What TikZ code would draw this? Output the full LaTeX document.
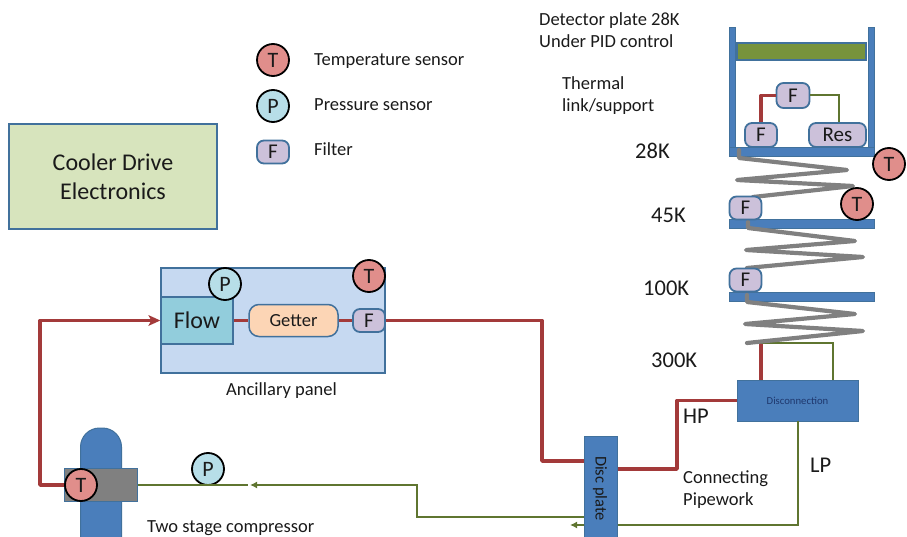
\documentclass[tikz,border=0pt]{standalone}
\usepackage{fontspec}
\setmainfont{Carlito}
\usetikzlibrary{arrows.meta}
\definecolor{edgeblue}{HTML}{41719C}
\definecolor{barblue}{HTML}{4A7EBB}
\definecolor{pipered}{HTML}{A33A3A}
\definecolor{pipegreen}{HTML}{5F7530}
\definecolor{tfill}{HTML}{E08E8B}
\definecolor{pfill}{HTML}{B7DEE8}
\definecolor{ffill}{HTML}{CCC1DA}
\definecolor{ink}{HTML}{1A1A1A}
\tikzset{
  tsens/.style={circle,draw=black,line width=1.8pt,fill=tfill,minimum size=32pt,inner sep=0pt,text=ink,font=\fontsize{22}{22}\selectfont},
  psens/.style={circle,draw=black,line width=1.8pt,fill=pfill,minimum size=32pt,inner sep=0pt,text=ink,font=\fontsize{22}{22}\selectfont},
  filt/.style={rectangle,rounded corners=7pt,draw=edgeblue,line width=1.8pt,fill=ffill,minimum width=32pt,minimum height=23pt,inner sep=0pt,text=ink,font=\fontsize{21}{21}\selectfont},
  bar/.style={rectangle,draw=edgeblue,line width=0.8pt,fill=barblue,inner sep=0pt},
  redpipe/.style={draw=pipered,line width=3.8pt,line join=round},
  greenpipe/.style={draw=pipegreen,line width=2pt},
  springline/.style={draw=gray,line width=4.2pt,line join=round,line cap=round},
  lab/.style={anchor=base west,inner sep=0pt,text=ink,font=\fontsize{18.5}{18.5}\selectfont},
  biglab/.style={anchor=base west,inner sep=0pt,text=ink,font=\fontsize{22.5}{22.5}\selectfont},
  box/.style={rectangle,draw=edgeblue,line width=1.5pt,inner sep=0pt,text=ink}
}
\begin{document}
\begin{tikzpicture}[x=1pt,y=-1pt]
\path[use as bounding box] (0,0) rectangle (907,537);
\begin{scope}
\clip (0,0) rectangle (907,537);
% Cooler box
\node[box,fill={rgb,255:red,215;green,228;blue,189},minimum width=208pt,minimum height=105pt,align=center,font=\fontsize{24}{29}\selectfont] (cooler) at (113,176.5) {Cooler Drive\\Electronics};
% Legend
\node[tsens] (legT) at (273,60) {T};
\node[psens] (legP) at (273,106) {P};
\node[filt] (legF) at (273,152) {F};
\node[lab] (legTt) at (314,66) {Temperature sensor};
\node[lab] (legPt) at (314,111) {Pressure sensor};
\node[lab] (legFt) at (314,156) {Filter};
% Ancillary panel
\node[box,fill={rgb,255:red,198;green,217;blue,241},minimum width=224pt,minimum height=105pt] (panel) at (273,320.5) {};
\node[box,fill={rgb,255:red,146;green,205;blue,220},minimum width=72pt,minimum height=47pt,font=\fontsize{24}{24}\selectfont] (flow) at (197,320.5) {Flow};
\node[box,rounded corners=10pt,fill={rgb,255:red,252;green,213;blue,181},minimum width=89pt,minimum height=32pt,font=\fontsize{18.5}{18.5}\selectfont] (getter) at (293.5,320.5) {Getter};
\node[filt,minimum width=32pt] (panF) at (369,320.5) {F};
\node[psens] (panP) at (225,284) {P};
\node[tsens] (panT) at (369,276) {T};
\node[lab] (panL) at (226,395) {Ancillary panel};
% Compressor
\node[rectangle,rounded corners=19pt,draw=edgeblue,line width=1pt,fill=barblue,minimum width=41pt,minimum height=130pt,inner sep=0pt] (comp) at (101,493) {};
\node[rectangle,draw=edgeblue,line width=1.5pt,fill=gray,minimum width=73pt,minimum height=33pt,inner sep=0pt] (compg) at (101,485) {};
\node[tsens] (compT) at (81,485) {T};
\node[psens] (compP) at (208,469) {P};
\node[lab] (compL) at (147,532) {Two stage compressor};
% Disc plate
\node[bar,minimum width=33pt,minimum height=120pt] (disc) at (601,496) {};
\node[inner sep=0pt,rotate=-90,text=ink,font=\fontsize{16.5}{16.5}\selectfont] (disct) at (600,488.5) {Disc plate};
% Disconnection
\node[bar,minimum width=121pt,minimum height=41pt,text={rgb,255:red,31;green,56;blue,110},font=\fontsize{10.7}{10.7}\selectfont] (disco) at (797.5,400.5) {Disconnection};
% Coordinates
\coordinate (r1) at (40,485);
\coordinate (r2) at (40,320.5);
\coordinate (r3) at (542,320.5);
\coordinate (r4) at (542,461);
\coordinate (r5) at (677,469);
\coordinate (r6) at (677,400.5);
\coordinate (r7) at (761,343);
\coordinate (g1) at (833,343);
\coordinate (g2) at (798,525);
\coordinate (g3) at (417,485);
\coordinate (g4) at (417,517);
% Red pipes
\draw[redpipe] (compT.west) -- (r1) -- (r2) -- ([xshift=-6pt]flow.west);
\fill[pipered] (flow.west) -- ++(-12,-5.5) -- ++(3,5.5) -- ++(-3,5.5) -- cycle;
\draw[redpipe] (flow.east) -- (getter.west);
\draw[redpipe] (getter.east) -- (panF.west);
\draw[redpipe] (panF.east) -- (r3) -- (r4) -- (r4 -| disc.west);
\draw[redpipe] (r5 -| disc.east) -- (r5) -- (r6) -- (disco.west);
\draw[redpipe] (r7 |- disco.north) -- (r7);
% Green pipes
\draw[greenpipe] (r7) -- (g1) -- (g1 |- disco.north);
\draw[greenpipe] (g2 |- disco.south) -- (g2) -- (g2 -| disc.east);
\draw[greenpipe,-{Latex[length=7pt,width=7pt]}] (g2 -| disc.west) -- (570,525);
\draw[greenpipe] (g4 -| disc.west) -- (g4) -- (g3) -- (256,485);
\draw[greenpipe,-{Latex[length=7pt,width=7pt]}] (g3) -- (250,485);
\draw[greenpipe] (compg.east) -- (248,485);
% Cold stack
\node[bar,minimum width=6pt,minimum height=120pt] (wallL) at (732,87) {};
\node[bar,minimum width=6pt,minimum height=120pt] (wallR) at (871,87) {};
\node[bar,minimum width=145pt,minimum height=9pt] (bar28) at (801.5,151.5) {};
\node[bar,minimum width=145pt,minimum height=9pt] (bar45) at (801.5,224) {};
\node[bar,minimum width=145pt,minimum height=9pt] (bar100) at (801.5,296.5) {};
\node[rectangle,draw=edgeblue,line width=1.5pt,fill={rgb,255:red,119;green,147;blue,60},minimum width=129pt,minimum height=17pt,inner sep=0pt] (plate) at (801.5,51.5) {};
% Springs
\draw[springline] (739,150) -- (739,158) -- (847,170) -- (737,180) -- (853,186) -- (753,197);
\draw[springline] (748,222) -- (748,228) -- (855,241) -- (746,250) -- (863,257) -- (747,268);
\draw[springline] (747,295) -- (747,302) -- (855,314) -- (745,324) -- (863,331) -- (747,343);
% Filters
\node[filt,minimum width=33pt,minimum height=25pt] (fTop) at (793,95.5) {F};
\node[filt,minimum height=24pt] (fLow) at (761,135) {F};
\node[filt,minimum width=57pt,minimum height=24pt] (res) at (837.5,135) {Res};
\coordinate (c1) at (761,95.5);
\coordinate (c2) at (839,95.5);
\draw[redpipe] (fLow.north) -- (c1) -- (fTop.west);
\draw[greenpipe] (fTop.east) -- (c2) -- (c2 |- res.north);
\node[filt] (f45) at (745.5,208) {F};
\node[filt] (f100) at (745.5,280) {F};
\node[tsens] (t28) at (889,164) {T};
\node[tsens] (t45) at (857,204) {T};
% Labels
\node[lab] (a) at (539,26) {Detector plate 28K};
\node[lab] (b) at (539,48) {Under PID control};
\node[lab] (c) at (562,90) {Thermal};
\node[lab] (d) at (562,112) {link/support};
\node[biglab] (k28) at (635,159) {28K};
\node[biglab] (k45) at (651,223) {45K};
\node[biglab] (k100) at (643,295) {100K};
\node[biglab] (k300) at (651,367) {300K};
\node[biglab] (hp) at (683,423) {HP};
\node[biglab] (lp) at (810,472) {LP};
\node[lab] (e) at (683,483) {Connecting};
\node[lab] (f) at (683,505) {Pipework};
\end{scope}
\end{tikzpicture}
\end{document}
